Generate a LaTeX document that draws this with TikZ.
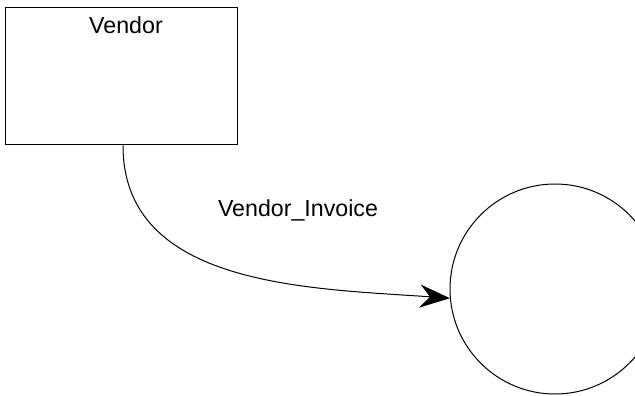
\documentclass[tikz,border=0pt]{standalone}
\usepackage{fontspec}
\setmainfont{Liberation Sans}
\usetikzlibrary{arrows.meta,positioning}
\tikzstyle{entity}=[draw,rectangle,inner sep=0pt,minimum width=116pt,
  minimum height=68.5pt]
\tikzstyle{process}=[draw,circle,inner sep=0pt,minimum size=105pt]
\tikzstyle{flow}=[->,line width=.5pt]

\begin{document}
\begin{tikzpicture}[>={Stealth[length=15pt,width=11.5pt,inset=5pt]},
    x=.5pt, y=-.5pt, line width=.5pt, font=\fontsize{11.6}{14}\selectfont]
  \useasboundingbox (0,0) rectangle (635,395);
  \begin{scope}
  \clip (0,0) rectangle (635,395);

  \node[entity] (vendor) at (121,76.5) {};
  \node[anchor=base] (vendor-name) at ([xshift=2.5pt,yshift=-13pt]vendor.north) {Vendor};

  \node[process] (invoice) at (555,289) {};

  \draw[flow] ([xshift=1pt]vendor.south) to[out=-90, in=176] (invoice.185);
  \node[anchor=base] (flow-name) at (298,216) {Vendor\_Invoice};
  \end{scope}
\end{tikzpicture}
\end{document}
